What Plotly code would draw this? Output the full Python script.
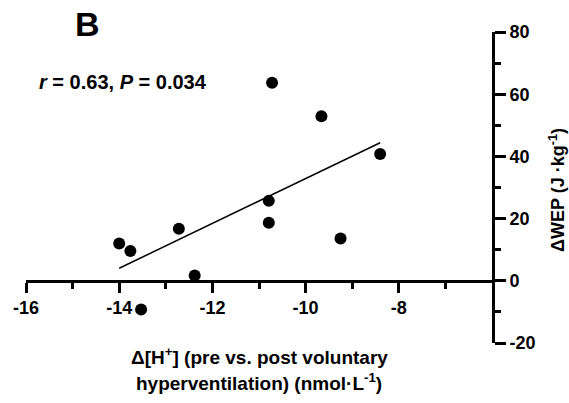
import numpy as np
import plotly.graph_objects as go

# Data
dH = [-14.0, -13.76, -12.72, -12.38, -13.53, -10.79, -10.79, -10.72, -9.66, -9.25, -8.40]
dWEP = [12.0, 9.6, 16.7, 1.7, -9.2, 25.7, 18.7, 63.7, 52.9, 13.6, 40.8]

x_ticks = [-16, -14, -12, -10, -8]
x_ticktext = ["-16", "-14", "-12", "-10", "-8"]
x_minor = [-15, -13, -11, -9, -7]
y_ticks = [-20, 0, 20, 40, 60, 80]
y_ticktext = ["-20", "0", "20", "40", "60", "80"]
y_minor = [-10, 10, 30, 50, 70]

stat_text = "<i>r</i> = 0.63, <i>P</i> = 0.034"
panel_label = "B"
x_title_1 = "Δ[H<sup>+</sup>] (pre vs. post voluntary"
x_title_2 = "hyperventilation) (nmol·L<sup>-1</sup>)"
y_title = "ΔWEP (J ·kg<sup>-1</sup>)"

# Linear regression from the data
slope, intercept = np.polyfit(dH, dWEP, 1)
fit_x = np.array([min(dH), max(dH)])
fit_y = slope * fit_x + intercept

FONT = "Liberation Sans, Arial, sans-serif"

fig = go.Figure()
fig.add_trace(go.Scatter(x=fit_x, y=fit_y, mode="lines",
                         line=dict(color="black", width=1.5), hoverinfo="skip"))
fig.add_trace(go.Scatter(x=dH, y=dWEP, mode="markers",
                         marker=dict(color="black", size=12, line=dict(width=0))))

fig.update_layout(
    width=569, height=403, autosize=False,
    margin=dict(l=26, r=77, t=32, b=60),
    paper_bgcolor="white", plot_bgcolor="white",
    showlegend=False,
    font=dict(family=FONT, color="black"),
    xaxis=dict(
        range=[-16, -6], anchor="free", position=0.2,
        showgrid=False, zeroline=False,
        showline=True, linecolor="black", linewidth=3,
        tickmode="array", tickvals=x_ticks, ticktext=x_ticktext,
        ticks="outside", ticklen=10, tickwidth=3, tickcolor="black",
        tickfont=dict(family=FONT, size=18, weight="bold", color="black"),
        minor=dict(tickmode="array", tickvals=x_minor, ticks="outside",
                   ticklen=6, tickwidth=3, tickcolor="black"),
    ),
    yaxis=dict(
        range=[-20, 80], side="right", anchor="x",
        showgrid=False, zeroline=False,
        showline=True, linecolor="black", linewidth=3,
        tickmode="array", tickvals=y_ticks, ticktext=y_ticktext,
        ticks="outside", ticklen=11, tickwidth=3, tickcolor="black",
        tickfont=dict(family=FONT, size=18, weight="bold", color="black"),
        minor=dict(tickmode="array", tickvals=y_minor, ticks="outside",
                   ticklen=6, tickwidth=3, tickcolor="black"),
    ),
)

bold = dict(family=FONT, color="black", weight="bold")
fig.add_annotation(text=panel_label, xref="paper", yref="paper", x=0.133, y=1.027,
                   showarrow=False, font=dict(bold, size=34), xanchor="center", yanchor="middle")
fig.add_annotation(text=stat_text, xref="paper", yref="paper", x=0.208, y=0.840,
                   showarrow=False, font=dict(bold, size=20), xanchor="center", yanchor="middle")
fig.add_annotation(text=x_title_1, xref="paper", yref="paper", x=0.5, y=-0.041,
                   showarrow=False, font=dict(bold, size=19), xanchor="center", yanchor="middle")
fig.add_annotation(text=x_title_2, xref="paper", yref="paper", x=0.5, y=-0.124,
                   showarrow=False, font=dict(bold, size=19), xanchor="center", yanchor="middle")
fig.add_annotation(text=y_title, xref="paper", yref="paper", x=1.140, y=0.493,
                   showarrow=False, font=dict(bold, size=18), textangle=-90,
                   xanchor="center", yanchor="middle")

fig.write_html("out.html")
